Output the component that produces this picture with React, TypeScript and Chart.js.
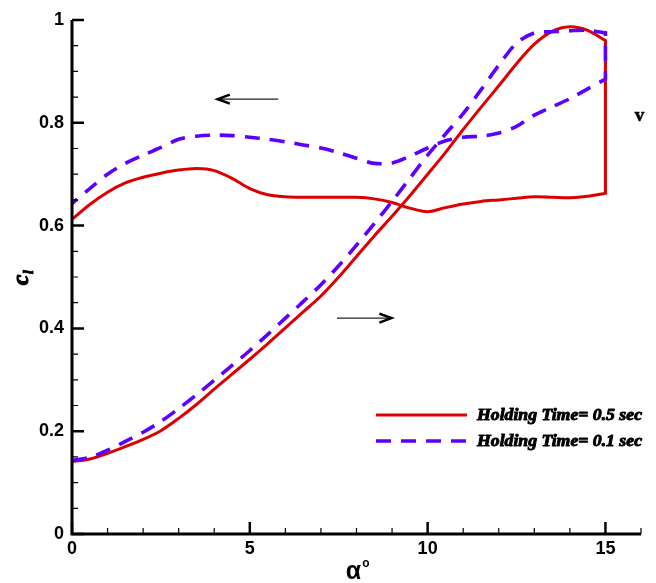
import { useEffect, useRef } from "react";
import { Chart, registerables } from "chart.js";

Chart.register(...registerables);

// Lift coefficient loop, holding time 0.5 s: upstroke, drop at 15° (corner points doubled), return stroke
const alphaHold05 = [
  0, 0.5, 1, 1.5, 2, 2.5, 3, 3.5, 4, 4.5, 5, 5.5, 6, 6.5, 7, 7.5, 8, 8.5, 9, 9.5, 10, 10.5, 11, 11.5, 12, 12.5, 13, 13.5, 14, 14.5, 15, 15,
  15, 15,
  14.5, 14, 13.5, 13, 12.5, 12, 11.5, 11, 10.5, 10, 9.5, 9, 8.5, 8, 7.5, 7, 6.5, 6, 5.5, 5, 4.5, 4, 3.5, 3, 2.5, 2, 1.5, 1, 0.5, 0,
];
const clHold05 = [
  0.141, 0.146, 0.157, 0.17, 0.184, 0.201, 0.225, 0.252, 0.282, 0.311, 0.34, 0.37, 0.401, 0.432, 0.463, 0.5, 0.54, 0.58, 0.618, 0.658, 0.7, 0.742, 0.787, 0.83, 0.872, 0.915, 0.953, 0.978, 0.987, 0.98, 0.96, 0.96,
  0.663, 0.663,
  0.657, 0.654, 0.655, 0.656, 0.653, 0.65, 0.647, 0.642, 0.635, 0.627, 0.634, 0.645, 0.652, 0.655, 0.655, 0.655, 0.655, 0.656, 0.66, 0.672, 0.692, 0.707, 0.711, 0.708, 0.702, 0.694, 0.683, 0.665, 0.641, 0.612,
];

// Lift coefficient loop, holding time 0.1 s
const alphaHold01 = [
  0, 0.5, 1, 1.5, 2, 2.5, 3, 3.5, 4, 4.5, 5, 5.5, 6, 6.5, 7, 7.5, 8, 8.5, 9, 9.5, 10, 10.5, 11, 11.5, 12, 12.5, 13, 13.5, 14, 14.5, 15, 15,
  15, 15,
  14.5, 14, 13.5, 13, 12.5, 12, 11.5, 11, 10.5, 10, 9.5, 9, 8.5, 8, 7.5, 7, 6.5, 6, 5.5, 5, 4.5, 4, 3.5, 3, 2.5, 2, 1.5, 1, 0.5, 0,
];
const clHold01 = [
  0.143, 0.149, 0.163, 0.18, 0.198, 0.219, 0.244, 0.271, 0.299, 0.328, 0.357, 0.388, 0.42, 0.452, 0.485, 0.522, 0.562, 0.604, 0.647, 0.692, 0.737, 0.778, 0.818, 0.864, 0.912, 0.955, 0.975, 0.977, 0.979, 0.98, 0.975, 0.975,
  0.885, 0.885,
  0.866, 0.847, 0.831, 0.815, 0.793, 0.78, 0.774, 0.772, 0.765, 0.751, 0.735, 0.722, 0.721, 0.731, 0.742, 0.751, 0.757, 0.763, 0.768, 0.772, 0.775, 0.776, 0.774, 0.768, 0.752, 0.737, 0.721, 0.7, 0.672, 0.643,
];

const xMajorTicks = [0, 5, 10, 15];
const yMajorTicks = [0, 0.2, 0.4, 0.6, 0.8, 1];
const xMinorTicks = [1, 2, 3, 4, 6, 7, 8, 9, 11, 12, 13, 14, 16];
const yMinorTicks = [0.05, 0.1, 0.15, 0.25, 0.3, 0.35, 0.45, 0.5, 0.55, 0.65, 0.7, 0.75, 0.85, 0.9, 0.95];

const seriesLabels = ["Holding Time= 0.5 sec", "Holding Time= 0.1 sec"];
const RED = "#dc0000";
const BLUE = "#5c00ff";
const BLUE_DASH = [15, 10];

const toPoints = (xs: number[], ys: number[]) => xs.map((x, i) => ({ x, y: ys[i] }));

const SERIF = '"Liberation Serif", "Times New Roman", serif';
const SANS = '"Liberation Sans", Arial, sans-serif';

function drawArrow(ctx: CanvasRenderingContext2D, x1: number, y: number, x2: number) {
  // shaft from x1 to x2, head at x2
  const dir = Math.sign(x2 - x1);
  ctx.save();
  ctx.strokeStyle = "#222";
  ctx.lineWidth = 1.3;
  ctx.beginPath();
  ctx.moveTo(x1, y);
  ctx.lineTo(x2, y);
  ctx.stroke();
  ctx.strokeStyle = "#000";
  ctx.lineWidth = 2.6;
  ctx.lineJoin = "miter";
  ctx.beginPath();
  ctx.moveTo(x2 - dir * 12, y - 4.5);
  ctx.lineTo(x2, y);
  ctx.lineTo(x2 - dir * 12, y + 4.5);
  ctx.stroke();
  ctx.restore();
}

// heavy text: fill plus a thin outline of the same colour
function heavyText(ctx: CanvasRenderingContext2D, text: string, x: number, y: number, stroke: number) {
  ctx.fillText(text, x, y);
  if (stroke > 0) {
    ctx.lineWidth = stroke;
    ctx.lineJoin = "round";
    ctx.strokeText(text, x, y);
  }
}

const decorPlugin = {
  id: "decor",
  afterDraw(chart: any) {
    const ctx: CanvasRenderingContext2D = chart.ctx;
    const xs = chart.scales.x;
    const ys = chart.scales.y;
    const { left, right, top, bottom } = chart.chartArea;

    ctx.save();
    ctx.strokeStyle = "#000";
    ctx.fillStyle = "#000";
    ctx.lineCap = "butt";

    // axis lines
    ctx.lineWidth = 3;
    ctx.beginPath();
    ctx.moveTo(left, top);
    ctx.lineTo(left, bottom + 1.5);
    ctx.moveTo(left - 1.5, bottom);
    ctx.lineTo(right, bottom);
    ctx.stroke();

    // inward tick marks
    ctx.lineWidth = 2.5;
    ctx.beginPath();
    xMajorTicks.forEach((v) => {
      const p = xs.getPixelForValue(v);
      ctx.moveTo(p, bottom);
      ctx.lineTo(p, bottom - 12);
    });
    yMajorTicks.forEach((v) => {
      const p = ys.getPixelForValue(v);
      ctx.moveTo(left, p);
      ctx.lineTo(left + 12, p);
    });
    ctx.stroke();
    ctx.lineWidth = 1.2;
    ctx.beginPath();
    xMinorTicks.forEach((v) => {
      const p = xs.getPixelForValue(v);
      ctx.moveTo(p, bottom);
      ctx.lineTo(p, bottom - 6);
    });
    yMinorTicks.forEach((v) => {
      const p = ys.getPixelForValue(v);
      ctx.moveTo(left, p);
      ctx.lineTo(left + 6, p);
    });
    ctx.stroke();

    // y-axis title: c with subscript l
    ctx.textAlign = "left";
    ctx.textBaseline = "alphabetic";
    ctx.save();
    ctx.translate(28, (top + bottom) / 2 + 8);
    ctx.rotate(-Math.PI / 2);
    ctx.font = `italic bold 23px ${SERIF}`;
    heavyText(ctx, "c", 0, 0, 1.2);
    const cw = ctx.measureText("c").width;
    ctx.font = `italic bold 15px ${SERIF}`;
    heavyText(ctx, "l", cw + 0.5, 5, 0.8);
    ctx.restore();

    // x-axis title: alpha with degree mark
    const cx = (left + right) / 2;
    ctx.font = `bold 25px ${SANS}`;
    const aw = ctx.measureText("α").width;
    const ax = cx - aw / 2 - 3;
    ctx.fillText("α", ax, 579);
    ctx.font = `bold 12px ${SANS}`;
    ctx.fillText("o", ax + aw + 1, 567);

    // direction arrows
    drawArrow(ctx, xs.getPixelForValue(5.8), ys.getPixelForValue(0.846), xs.getPixelForValue(4.1));
    drawArrow(ctx, xs.getPixelForValue(7.45), ys.getPixelForValue(0.42), xs.getPixelForValue(8.98));

    // v marker
    ctx.font = `bold 19px ${SERIF}`;
    ctx.textAlign = "center";
    ctx.textBaseline = "middle";
    heavyText(ctx, "v", xs.getPixelForValue(15.96), ys.getPixelForValue(0.813), 0.6);

    // legend
    const legendX = 376;
    const legendY = [415, 441];
    const lineLen = 91;
    const textW = 165;
    ctx.textAlign = "left";
    ctx.textBaseline = "middle";
    ctx.font = `italic bold 16px ${SERIF}`;
    seriesLabels.forEach((label, i) => {
      ctx.save();
      ctx.strokeStyle = i === 0 ? RED : BLUE;
      ctx.lineWidth = i === 0 ? 3 : 3.6;
      ctx.setLineDash(i === 0 ? [] : BLUE_DASH);
      ctx.beginPath();
      ctx.moveTo(legendX, legendY[i]);
      ctx.lineTo(legendX + lineLen, legendY[i]);
      ctx.stroke();
      ctx.restore();
      const w = ctx.measureText(label).width;
      ctx.save();
      ctx.translate(legendX + lineLen + 10, legendY[i] + 1);
      ctx.scale(textW / w, 1);
      heavyText(ctx, label, 0, 0, 0.9);
      ctx.restore();
    });

    ctx.restore();
  },
};

const tickText = (v: number | string) => `${+Number(v).toFixed(2)}`;

export default function App() {
  const canvasRef = useRef<HTMLCanvasElement | null>(null);

  useEffect(() => {
    document.body.style.margin = "0";
    const canvas = canvasRef.current;
    if (!canvas) return;

    const chart = new Chart(canvas, {
      type: "line",
      data: {
        datasets: [
          {
            label: seriesLabels[1],
            data: toPoints(alphaHold01, clHold01),
            borderColor: BLUE,
            borderWidth: 3.6,
            borderDash: BLUE_DASH,
            pointRadius: 0,
            tension: 0.3,
            fill: false,
            order: 0,
          },
          {
            label: seriesLabels[0],
            data: toPoints(alphaHold05, clHold05),
            borderColor: RED,
            borderWidth: 3,
            pointRadius: 0,
            tension: 0.3,
            fill: false,
            order: 1,
          },
        ],
      },
      options: {
        responsive: false,
        animation: false,
        devicePixelRatio: 1,
        layout: { padding: { left: 0, top: 20, right: 15, bottom: 0 } },
        plugins: {
          legend: { display: false },
          tooltip: { enabled: false },
        },
        scales: {
          x: {
            type: "linear",
            min: 0,
            max: 16,
            grid: { display: false, drawTicks: false },
            border: { display: false },
            ticks: {
              color: "#000",
              padding: 4,
              font: { family: SANS, size: 18, weight: "bold" },
              callback: tickText,
            },
            afterBuildTicks: (scale: any) => {
              scale.ticks = xMajorTicks.map((value) => ({ value }));
            },
            afterFit: (scale: any) => {
              scale.height = 49;
            },
          },
          y: {
            type: "linear",
            min: 0,
            max: 1,
            grid: { display: false, drawTicks: false },
            border: { display: false },
            ticks: {
              color: "#000",
              padding: 8,
              font: { family: SANS, size: 18, weight: "bold" },
              callback: tickText,
            },
            afterBuildTicks: (scale: any) => {
              scale.ticks = yMajorTicks.map((value) => ({ value }));
            },
            afterFit: (scale: any) => {
              scale.width = 72;
            },
          },
        },
      },
      plugins: [decorPlugin],
    });

    return () => chart.destroy();
  }, []);

  return (
    <div style={{ width: 656, height: 583, background: "#fff" }}>
      <canvas ref={canvasRef} width={656} height={583} />
    </div>
  );
}
